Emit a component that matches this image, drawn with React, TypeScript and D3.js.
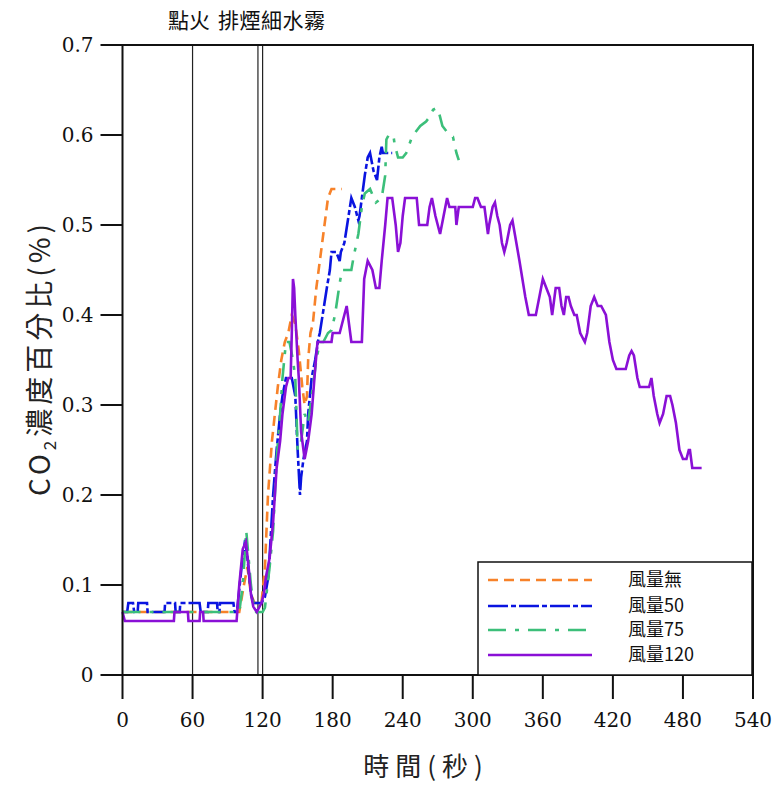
import React from "react";
import * as d3 from "d3";

const xTicks = [0, 60, 120, 180, 240, 300, 360, 420, 480, 540];
const yTicks = [0, 0.1, 0.2, 0.3, 0.4, 0.5, 0.6, 0.7];
const eventTimes = [60, 116, 120];
const seriesNames = ["風量無", "風量50", "風量75", "風量120"];

const windNone: [number, number][] = [
  [0, 0.07], [100, 0.07], [104, 0.1], [107, 0.12], [110, 0.09], [113, 0.08], [119, 0.08],
  [122, 0.12], [124.6, 0.2], [128, 0.26], [130.5, 0.29], [133, 0.32], [136, 0.35], [139, 0.37],
  [142, 0.38], [145, 0.4], [148, 0.39], [151, 0.36], [154, 0.32], [156, 0.3], [158, 0.31],
  [159, 0.35], [161, 0.38], [163, 0.39], [166, 0.43], [169, 0.46], [172, 0.49], [175, 0.52],
  [176, 0.53], [179, 0.54], [188, 0.54],
];

const wind50: [number, number][] = [
  [0, 0.07], [4, 0.07], [5, 0.08], [9, 0.08], [10, 0.07], [13, 0.07], [13.5, 0.08], [21, 0.08],
  [21.5, 0.07], [36, 0.07], [36.5, 0.08], [45, 0.08], [45.5, 0.07], [49, 0.07], [49.5, 0.08],
  [66, 0.08], [67, 0.07], [73, 0.07], [73.5, 0.08], [81, 0.08], [81.5, 0.07], [83, 0.07],
  [83.5, 0.08], [95, 0.08], [96, 0.07], [98, 0.07], [102, 0.12], [105, 0.15], [107, 0.13],
  [110, 0.09], [112, 0.08], [119, 0.08], [122, 0.087], [125, 0.11], [129, 0.2], [132, 0.25],
  [135, 0.29], [137, 0.31], [140, 0.33], [145, 0.33], [148, 0.31], [149, 0.28], [150, 0.25],
  [152, 0.2], [153, 0.22], [155, 0.24], [158, 0.26], [159, 0.29], [162, 0.33], [165, 0.35],
  [168, 0.375], [169, 0.38], [172, 0.405], [175, 0.43], [177.6, 0.45], [179, 0.47], [183, 0.47],
  [186, 0.46], [187, 0.47], [190, 0.48], [193, 0.505], [196, 0.53], [199, 0.52], [202, 0.505],
  [203, 0.51], [205, 0.53], [207.5, 0.555], [210, 0.575], [212, 0.58], [215, 0.56], [218, 0.55],
  [220, 0.575], [222, 0.587], [223, 0.58], [231, 0.58],
];

const wind75: [number, number][] = [
  [0, 0.07], [100, 0.07], [103, 0.1], [106, 0.16], [108, 0.13], [110, 0.1], [113, 0.07],
  [120, 0.07], [122, 0.075], [126, 0.12], [129, 0.16], [132, 0.24], [135, 0.29], [137, 0.33],
  [140, 0.37], [143, 0.37], [146, 0.35], [148, 0.33], [150, 0.25], [153, 0.26], [156, 0.29],
  [159, 0.28], [163, 0.32], [166, 0.35], [169, 0.37], [172, 0.37], [176, 0.38], [179, 0.383],
  [182, 0.4], [186, 0.435], [188, 0.45], [192, 0.45], [196, 0.45], [198, 0.465], [202, 0.49],
  [205, 0.52], [207.5, 0.535], [212, 0.54], [217, 0.525], [222, 0.53], [225, 0.555], [226, 0.595],
  [228, 0.6], [232, 0.6], [233, 0.59], [236, 0.575], [240, 0.575], [243, 0.58], [248, 0.598],
  [252, 0.605], [255, 0.61], [260, 0.615], [263, 0.62], [266, 0.628], [269, 0.63], [271, 0.625],
  [274, 0.61], [280, 0.6], [283, 0.598], [286, 0.58], [288, 0.572],
];

const wind120: [number, number][] = [
  [0, 0.07], [2, 0.06], [44, 0.06], [44.5, 0.07], [56, 0.07], [56.5, 0.06], [66, 0.06],
  [66.5, 0.07], [69, 0.07], [69.5, 0.06], [97.7, 0.06], [100, 0.1], [103, 0.14], [105.7, 0.148],
  [108, 0.12], [110, 0.09], [112, 0.076], [115, 0.07], [119, 0.08], [121, 0.09], [123, 0.11],
  [126, 0.13], [129, 0.17], [132, 0.23], [135, 0.26], [137, 0.29], [140, 0.32], [142, 0.33],
  [144, 0.33], [145, 0.38], [146, 0.44], [147, 0.43], [148, 0.4], [150, 0.35], [151, 0.33],
  [153, 0.27], [156, 0.24], [159, 0.26], [162, 0.29], [165, 0.34], [167, 0.37], [169, 0.37],
  [179, 0.37], [180, 0.38], [186, 0.38], [190, 0.4], [192, 0.41], [194, 0.39], [196, 0.37],
  [205, 0.37], [207, 0.44], [210, 0.46], [214, 0.45], [217, 0.43], [220, 0.43], [222, 0.46],
  [225, 0.5], [227, 0.53], [231, 0.53], [234, 0.5], [236, 0.47], [238, 0.48], [240, 0.51],
  [242, 0.53], [252, 0.53], [254, 0.5], [261, 0.5], [263, 0.52], [265, 0.53], [268, 0.51],
  [272, 0.49], [275, 0.51], [278, 0.53], [280, 0.52], [285, 0.52], [286, 0.5], [288, 0.52],
  [300, 0.52], [302, 0.53], [304, 0.53], [307, 0.52], [310, 0.52], [313, 0.49], [314, 0.5],
  [317, 0.52], [319, 0.525], [321, 0.51], [323, 0.5], [325, 0.48], [327, 0.47], [329, 0.48],
  [332, 0.5], [334, 0.505], [336, 0.49], [340, 0.46], [345, 0.42], [348, 0.4], [354, 0.4],
  [357, 0.42], [360, 0.44], [363, 0.43], [366, 0.42], [368, 0.4], [371, 0.43], [374, 0.43],
  [376, 0.41], [378, 0.4], [380, 0.42], [382, 0.42], [384, 0.41], [387, 0.4], [389, 0.4],
  [392, 0.38], [396, 0.37], [398, 0.38], [401, 0.41], [404, 0.42], [407, 0.41], [410, 0.41],
  [414, 0.4], [417, 0.37], [420, 0.35], [423, 0.34], [431, 0.34], [434, 0.355], [436, 0.36],
  [438, 0.355], [441, 0.33], [443, 0.32], [451, 0.32], [453, 0.33], [455, 0.31], [458, 0.29],
  [460, 0.28], [463, 0.29], [466, 0.31], [469, 0.31], [471, 0.3], [474, 0.28], [477, 0.25],
  [480, 0.24], [483, 0.24], [485, 0.25], [486, 0.25], [488, 0.23], [496, 0.23],
];

const allSeries = [windNone, wind50, wind75, wind120];
const colors = ["#f7822a", "#0a14e0", "#3cbf7a", "#8a10d6"];
const dashes = ["10,6", "20,3,5,3", "18,9,4,9", null];

const W = 774;
const H = 787;
const L = 122.5;
const R = 753;
const T = 45;
const B = 675;
const serif = "'DejaVu Serif', 'Liberation Serif', serif";
const cjk = "'Noto Sans CJK TC', 'Noto Sans CJK JP', sans-serif";

export default function App() {
  const x = d3.scaleLinear().domain([0, 540]).range([L, R]);
  const y = d3.scaleLinear().domain([0, 0.7]).range([B, T]);
  const line = d3
    .line<[number, number]>()
    .x((d) => x(d[0]))
    .y((d) => y(d[1]));

  const legendRows = [580, 606, 630, 655];

  return (
    <svg
      width={W}
      height={H}
      style={{ position: "absolute", left: 0, top: 0, background: "#fff" }}
    >
      <rect x={0} y={0} width={W} height={H} fill="#fff" />
      {eventTimes.map((t, i) => (
        <line key={i} x1={x(t)} x2={x(t)} y1={T} y2={B} stroke="#222" strokeWidth={1.2} />
      ))}
      <text y={28} fontFamily={cjk} fontSize={21} fill="#111">
        <tspan x={168}>點火</tspan>
        <tspan x={218} letterSpacing={0.5}>排煙細水霧</tspan>
      </text>

      {allSeries.map((s, i) => (
        <path
          key={i}
          d={line(s) || ""}
          fill="none"
          stroke={colors[i]}
          strokeWidth={2.6}
          strokeDasharray={dashes[i] || undefined}
        />
      ))}

      <rect x={L} y={T} width={R - L} height={B - T} fill="none" stroke="#111" strokeWidth={2} />

      {yTicks.map((v, i) => (
        <g key={i}>
          <line x1={L - 22} x2={L} y1={y(v)} y2={y(v)} stroke="#111" strokeWidth={2} />
          <text
            x={L - 29}
            y={y(v)}
            dy="0.35em"
            textAnchor="end"
            fontFamily={serif}
            fontSize={20}
            fill="#111"
          >
            {v === 0 ? "0" : d3.format(".1f")(v)}
          </text>
        </g>
      ))}
      {xTicks.map((v, i) => (
        <g key={i}>
          <line x1={x(v)} x2={x(v)} y1={B} y2={B + 24} stroke="#111" strokeWidth={2} />
          <text
            x={x(v)}
            y={B + 52}
            textAnchor="middle"
            fontFamily={serif}
            fontSize={20}
            fill="#111"
          >
            {v}
          </text>
        </g>
      ))}

      <text
        x={426}
        y={776}
        textAnchor="middle"
        fontFamily={cjk}
        fontSize={26}
        letterSpacing={6}
        fill="#222"
      >
        時間(秒)
      </text>
      <text
        transform={`translate(50, 358) rotate(-90)`}
        textAnchor="middle"
        fontFamily={cjk}
        fontSize={28}
        letterSpacing={4}
        fill="#222"
      >
        CO<tspan fontSize={17} dy={6}>2</tspan>
        <tspan dy={-6}>濃度百分比(%)</tspan>
      </text>

      <rect x={478} y={562} width={274} height={113} fill="#fff" stroke="#111" strokeWidth={1.5} />
      {seriesNames.map((n, i) => (
        <g key={i}>
          <line
            x1={488}
            x2={592}
            y1={legendRows[i]}
            y2={legendRows[i]}
            stroke={colors[i]}
            strokeWidth={2.6}
            strokeDasharray={dashes[i] || undefined}
          />
          <text
            x={628}
            y={legendRows[i]}
            dy="0.35em"
            fontFamily={cjk}
            fontSize={18}
            fill="#111"
          >
            {n}
          </text>
        </g>
      ))}
    </svg>
  );
}
